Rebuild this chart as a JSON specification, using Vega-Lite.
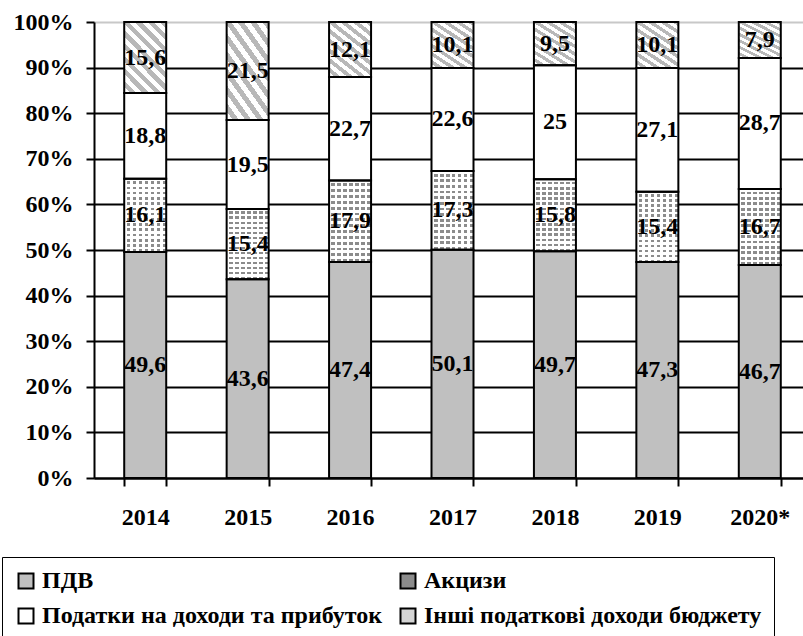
{
  "$schema": "https://vega.github.io/schema/vega-lite/v6.json",
  "autosize": {"type": "none"},
  "padding": {"left": 94, "top": 22, "right": 0, "bottom": 158},
  "width": 709,
  "height": 456,
  "background": "white",
  "config": {
    "view": {"stroke": null},
    "locale": {"number": {"decimal": ",", "thousands": " ", "grouping": [3], "currency": ["", ""]}},
    "font": "Liberation Serif, Times New Roman, serif"
  },
  "data": {
    "values": [
      {"year": "2014", "s": "ПДВ", "k": 1, "v": 49.6},
      {"year": "2014", "s": "Акцизи", "k": 2, "v": 16.1},
      {"year": "2014", "s": "Податки на доходи та прибуток", "k": 3, "v": 18.8},
      {"year": "2014", "s": "Інші податкові доходи бюджету", "k": 4, "v": 15.6},
      {"year": "2015", "s": "ПДВ", "k": 1, "v": 43.6},
      {"year": "2015", "s": "Акцизи", "k": 2, "v": 15.4},
      {"year": "2015", "s": "Податки на доходи та прибуток", "k": 3, "v": 19.5},
      {"year": "2015", "s": "Інші податкові доходи бюджету", "k": 4, "v": 21.5},
      {"year": "2016", "s": "ПДВ", "k": 1, "v": 47.4},
      {"year": "2016", "s": "Акцизи", "k": 2, "v": 17.9},
      {"year": "2016", "s": "Податки на доходи та прибуток", "k": 3, "v": 22.7},
      {"year": "2016", "s": "Інші податкові доходи бюджету", "k": 4, "v": 12.1},
      {"year": "2017", "s": "ПДВ", "k": 1, "v": 50.1},
      {"year": "2017", "s": "Акцизи", "k": 2, "v": 17.3},
      {"year": "2017", "s": "Податки на доходи та прибуток", "k": 3, "v": 22.6},
      {"year": "2017", "s": "Інші податкові доходи бюджету", "k": 4, "v": 10.1},
      {"year": "2018", "s": "ПДВ", "k": 1, "v": 49.7},
      {"year": "2018", "s": "Акцизи", "k": 2, "v": 15.8},
      {"year": "2018", "s": "Податки на доходи та прибуток", "k": 3, "v": 25},
      {"year": "2018", "s": "Інші податкові доходи бюджету", "k": 4, "v": 9.5},
      {"year": "2019", "s": "ПДВ", "k": 1, "v": 47.3},
      {"year": "2019", "s": "Акцизи", "k": 2, "v": 15.4},
      {"year": "2019", "s": "Податки на доходи та прибуток", "k": 3, "v": 27.1},
      {"year": "2019", "s": "Інші податкові доходи бюджету", "k": 4, "v": 10.1},
      {"year": "2020*", "s": "ПДВ", "k": 1, "v": 46.7},
      {"year": "2020*", "s": "Акцизи", "k": 2, "v": 16.7},
      {"year": "2020*", "s": "Податки на доходи та прибуток", "k": 3, "v": 28.7},
      {"year": "2020*", "s": "Інші податкові доходи бюджету", "k": 4, "v": 7.9}
    ]
  },
  "transform": [
    {"stack": "v", "groupby": ["year"], "offset": "normalize", "sort": [{"field": "k", "order": "ascending"}], "as": ["y0", "y1"]},
    {"calculate": "(datum.y0 + datum.y1) / 2", "as": "mid"}
  ],
  "encoding": {
    "x": {
      "field": "year", "type": "nominal", "sort": null,
      "scale": {"type": "band", "range": [0, 717], "paddingInner": 0.59, "paddingOuter": 0.295},
      "axis": {
        "title": null, "labelAngle": 0, "domainColor": "black", "domainWidth": 2,
        "tickBand": "extent", "tickColor": "black", "tickWidth": 2, "tickSize": 8,
        "labelFont": "Liberation Serif, Times New Roman, serif", "labelFontWeight": "bold", "labelFontSize": 24,
        "labelColor": "black", "labelPadding": 19, "grid": false
      }
    }
  },
  "layer": [
    {
      "mark": {"type": "bar", "strokeWidth": 0},
      "encoding": {
        "y": {
          "field": "y0", "type": "quantitative", "scale": {"domain": [0, 1]},
          "axis": {
            "title": null, "values": [0, 0.1, 0.2, 0.3, 0.4, 0.5, 0.6, 0.7, 0.8, 0.9, 1],
            "format": ".0%", "domainColor": "black", "domainWidth": 2,
            "tickColor": "black", "tickWidth": 2, "tickSize": 8,
            "grid": true, "gridWidth": 2,
            "gridColor": {"condition": {"test": "datum.value === 1", "value": "#c8c8c8"}, "value": "black"},
            "labelFont": "Liberation Serif, Times New Roman, serif", "labelFontWeight": "bold", "labelFontSize": 24,
            "labelColor": "black", "labelPadding": 13
          }
        },
        "y2": {"field": "y1"},
        "color": {
          "field": "s", "type": "nominal",
          "scale": {
            "domain": ["ПДВ", "Акцизи", "Податки на доходи та прибуток", "Інші податкові доходи бюджету"],
            "range": ["#c0c0c0", "#8c8c8c", "#ffffff", "#d4d4d4"]
          },
          "legend": {
            "title": null, "orient": "none", "legendX": -92, "legendY": 535,
            "direction": "horizontal", "columns": 2, "columnPadding": 13, "rowPadding": 11,
            "padding": 12, "strokeColor": "black",
            "symbolType": "square", "symbolSize": 225, "symbolStrokeColor": "black", "symbolStrokeWidth": 2,
            "labelFont": "Liberation Serif, Times New Roman, serif", "labelFontWeight": "bold", "labelFontSize": 24,
            "labelColor": "black", "labelOffset": 4, "labelLimit": 500
          }
        }
      }
    },
    {
      "transform": [{"filter": "datum.s === 'Акцизи'"}],
      "mark": {
        "type": "bar", "strokeWidth": 0,
        "fill": {
          "gradient": "linear", "x1": 0, "y1": 0, "x2": 1, "y2": 0,
          "stops": [
            {"offset": 0, "color": "#ffffff"}, {"offset": 0.0571, "color": "#ffffff"},
            {"offset": 0.0571, "color": "rgba(255,255,255,0)"}, {"offset": 0.1429, "color": "rgba(255,255,255,0)"},
            {"offset": 0.1429, "color": "#ffffff"}, {"offset": 0.2, "color": "#ffffff"},
            {"offset": 0.2, "color": "rgba(255,255,255,0)"}, {"offset": 0.2857, "color": "rgba(255,255,255,0)"},
            {"offset": 0.2857, "color": "#ffffff"}, {"offset": 0.3429, "color": "#ffffff"},
            {"offset": 0.3429, "color": "rgba(255,255,255,0)"}, {"offset": 0.4286, "color": "rgba(255,255,255,0)"},
            {"offset": 0.4286, "color": "#ffffff"}, {"offset": 0.4857, "color": "#ffffff"},
            {"offset": 0.4857, "color": "rgba(255,255,255,0)"}, {"offset": 0.5714, "color": "rgba(255,255,255,0)"},
            {"offset": 0.5714, "color": "#ffffff"}, {"offset": 0.6286, "color": "#ffffff"},
            {"offset": 0.6286, "color": "rgba(255,255,255,0)"}, {"offset": 0.7143, "color": "rgba(255,255,255,0)"},
            {"offset": 0.7143, "color": "#ffffff"}, {"offset": 0.7714, "color": "#ffffff"},
            {"offset": 0.7714, "color": "rgba(255,255,255,0)"}, {"offset": 0.8571, "color": "rgba(255,255,255,0)"},
            {"offset": 0.8571, "color": "#ffffff"}, {"offset": 0.9143, "color": "#ffffff"},
            {"offset": 0.9143, "color": "rgba(255,255,255,0)"}, {"offset": 1, "color": "rgba(255,255,255,0)"}
          ]
        }
      },
      "encoding": {
        "y": {"field": "y0", "type": "quantitative"},
        "y2": {"field": "y1"}
      }
    },
    {
      "transform": [{"filter": "datum.s === 'Акцизи'"}],
      "mark": {
        "type": "bar", "strokeWidth": 0,
        "fill": {
          "gradient": "linear", "x1": 0, "y1": 0, "x2": 0, "y2": 1,
          "stops": [
            {"offset": 0, "color": "#ffffff"}, {"offset": 0.0357, "color": "#ffffff"},
            {"offset": 0.0357, "color": "rgba(255,255,255,0)"}, {"offset": 0.0714, "color": "rgba(255,255,255,0)"},
            {"offset": 0.0714, "color": "#ffffff"}, {"offset": 0.1071, "color": "#ffffff"},
            {"offset": 0.1071, "color": "rgba(255,255,255,0)"}, {"offset": 0.1429, "color": "rgba(255,255,255,0)"},
            {"offset": 0.1429, "color": "#ffffff"}, {"offset": 0.1786, "color": "#ffffff"},
            {"offset": 0.1786, "color": "rgba(255,255,255,0)"}, {"offset": 0.2143, "color": "rgba(255,255,255,0)"},
            {"offset": 0.2143, "color": "#ffffff"}, {"offset": 0.25, "color": "#ffffff"},
            {"offset": 0.25, "color": "rgba(255,255,255,0)"}, {"offset": 0.2857, "color": "rgba(255,255,255,0)"},
            {"offset": 0.2857, "color": "#ffffff"}, {"offset": 0.3214, "color": "#ffffff"},
            {"offset": 0.3214, "color": "rgba(255,255,255,0)"}, {"offset": 0.3571, "color": "rgba(255,255,255,0)"},
            {"offset": 0.3571, "color": "#ffffff"}, {"offset": 0.3929, "color": "#ffffff"},
            {"offset": 0.3929, "color": "rgba(255,255,255,0)"}, {"offset": 0.4286, "color": "rgba(255,255,255,0)"},
            {"offset": 0.4286, "color": "#ffffff"}, {"offset": 0.4643, "color": "#ffffff"},
            {"offset": 0.4643, "color": "rgba(255,255,255,0)"}, {"offset": 0.5, "color": "rgba(255,255,255,0)"},
            {"offset": 0.5, "color": "#ffffff"}, {"offset": 0.5357, "color": "#ffffff"},
            {"offset": 0.5357, "color": "rgba(255,255,255,0)"}, {"offset": 0.5714, "color": "rgba(255,255,255,0)"},
            {"offset": 0.5714, "color": "#ffffff"}, {"offset": 0.6071, "color": "#ffffff"},
            {"offset": 0.6071, "color": "rgba(255,255,255,0)"}, {"offset": 0.6429, "color": "rgba(255,255,255,0)"},
            {"offset": 0.6429, "color": "#ffffff"}, {"offset": 0.6786, "color": "#ffffff"},
            {"offset": 0.6786, "color": "rgba(255,255,255,0)"}, {"offset": 0.7143, "color": "rgba(255,255,255,0)"},
            {"offset": 0.7143, "color": "#ffffff"}, {"offset": 0.75, "color": "#ffffff"},
            {"offset": 0.75, "color": "rgba(255,255,255,0)"}, {"offset": 0.7857, "color": "rgba(255,255,255,0)"},
            {"offset": 0.7857, "color": "#ffffff"}, {"offset": 0.8214, "color": "#ffffff"},
            {"offset": 0.8214, "color": "rgba(255,255,255,0)"}, {"offset": 0.8571, "color": "rgba(255,255,255,0)"},
            {"offset": 0.8571, "color": "#ffffff"}, {"offset": 0.8929, "color": "#ffffff"},
            {"offset": 0.8929, "color": "rgba(255,255,255,0)"}, {"offset": 0.9286, "color": "rgba(255,255,255,0)"},
            {"offset": 0.9286, "color": "#ffffff"}, {"offset": 0.9643, "color": "#ffffff"},
            {"offset": 0.9643, "color": "rgba(255,255,255,0)"}, {"offset": 1, "color": "rgba(255,255,255,0)"}
          ]
        }
      },
      "encoding": {
        "y": {"field": "y0", "type": "quantitative"},
        "y2": {"field": "y1"}
      }
    },
    {
      "transform": [{"filter": "datum.s === 'Інші податкові доходи бюджету'"}],
      "mark": {
        "type": "bar", "strokeWidth": 0,
        "fill": {
          "gradient": "linear", "x1": 0, "y1": 1, "x2": 0.704, "y2": -0.176,
          "stops": [
            {"offset": 0, "color": "#ffffff"}, {"offset": 0.0556, "color": "#ffffff"},
            {"offset": 0.0556, "color": "#b8b8b8"}, {"offset": 0.1111, "color": "#b8b8b8"},
            {"offset": 0.1111, "color": "#ffffff"}, {"offset": 0.1667, "color": "#ffffff"},
            {"offset": 0.1667, "color": "#b8b8b8"}, {"offset": 0.2222, "color": "#b8b8b8"},
            {"offset": 0.2222, "color": "#ffffff"}, {"offset": 0.2778, "color": "#ffffff"},
            {"offset": 0.2778, "color": "#b8b8b8"}, {"offset": 0.3333, "color": "#b8b8b8"},
            {"offset": 0.3333, "color": "#ffffff"}, {"offset": 0.3889, "color": "#ffffff"},
            {"offset": 0.3889, "color": "#b8b8b8"}, {"offset": 0.4444, "color": "#b8b8b8"},
            {"offset": 0.4444, "color": "#ffffff"}, {"offset": 0.5, "color": "#ffffff"},
            {"offset": 0.5, "color": "#b8b8b8"}, {"offset": 0.5556, "color": "#b8b8b8"},
            {"offset": 0.5556, "color": "#ffffff"}, {"offset": 0.6111, "color": "#ffffff"},
            {"offset": 0.6111, "color": "#b8b8b8"}, {"offset": 0.6667, "color": "#b8b8b8"},
            {"offset": 0.6667, "color": "#ffffff"}, {"offset": 0.7222, "color": "#ffffff"},
            {"offset": 0.7222, "color": "#b8b8b8"}, {"offset": 0.7778, "color": "#b8b8b8"},
            {"offset": 0.7778, "color": "#ffffff"}, {"offset": 0.8333, "color": "#ffffff"},
            {"offset": 0.8333, "color": "#b8b8b8"}, {"offset": 0.8889, "color": "#b8b8b8"},
            {"offset": 0.8889, "color": "#ffffff"}, {"offset": 0.9444, "color": "#ffffff"},
            {"offset": 0.9444, "color": "#b8b8b8"}, {"offset": 1, "color": "#b8b8b8"}
          ]
        }
      },
      "encoding": {
        "y": {"field": "y0", "type": "quantitative"},
        "y2": {"field": "y1"}
      }
    },
    {
      "mark": {"type": "bar", "fill": "transparent", "stroke": "black", "strokeWidth": 2},
      "encoding": {
        "y": {"field": "y0", "type": "quantitative"},
        "y2": {"field": "y1"}
      }
    },
    {
      "mark": {"type": "text", "font": "Liberation Serif, Times New Roman, serif", "fontWeight": "bold", "fontSize": 24, "color": "black", "align": "center", "baseline": "middle"},
      "encoding": {
        "y": {"field": "mid", "type": "quantitative"},
        "text": {"field": "v", "type": "quantitative", "format": ".3~g"}
      }
    }
  ]
}
